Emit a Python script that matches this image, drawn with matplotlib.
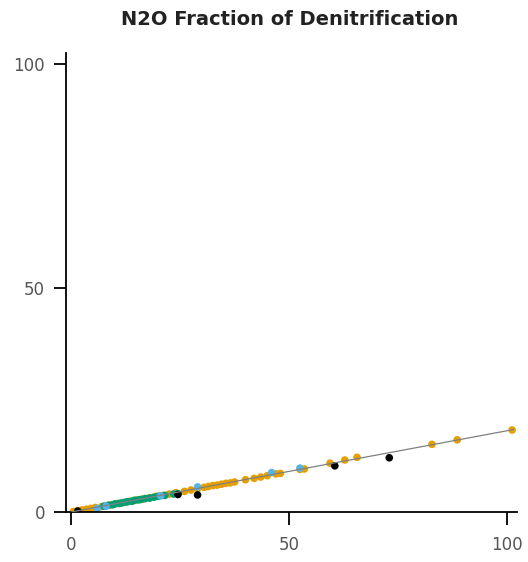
import numpy as np
import matplotlib.pyplot as plt

# ------------------------------------------------------------------
# Data
# ------------------------------------------------------------------
orange_x = [0.5, 1.5, 2.5, 3.5, 4.5, 5.5, 7, 9, 10.5, 12, 13.5, 15, 16.5, 18, 19.5,
            21, 22.5, 24, 26, 27.5, 29, 30.5, 31.5, 32.5, 33.5, 34.5, 35.5, 36.5,
            37.5, 40, 42, 43.5, 45, 47, 48, 52.5, 53.5, 59.4, 62.8, 65.6, 82.8,
            88.6, 101.2]
orange_y = [0.1, 0.3, 0.45, 0.6, 0.8, 1.0, 1.2, 1.6, 1.9, 2.1, 2.4, 2.7, 2.9, 3.2, 3.5,
            3.7, 4.0, 4.3, 4.6, 4.9, 5.2, 5.5, 5.7, 5.9, 6.0, 6.2, 6.4, 6.5,
            6.7, 7.2, 7.5, 7.8, 8.1, 8.5, 8.6, 9.5, 9.6, 10.9, 11.6, 12.2, 15.1,
            16.1, 18.3]

green_x = [7.5, 8.5, 9.5, 10, 11, 11.5, 12.5, 13, 14, 14.5, 15.5, 16, 17, 18, 19,
           20, 21.5, 23.5, 24.5]
green_y = [1.3, 1.5, 1.6, 1.8, 1.9, 2.0, 2.2, 2.3, 2.4, 2.6, 2.7, 2.8, 3.0, 3.1, 3.3,
           3.5, 3.7, 4.0, 4.1]

blue_x = [6, 8, 20.5, 29, 46, 52.5]
blue_y = [0.8, 1.3, 3.6, 5.6, 8.8, 9.8]

black_x = [1.5, 24.5, 29, 60.5, 73]
black_y = [0.2, 3.9, 3.8, 10.3, 12.1]

fit_x = [0, 101.5]
fit_y = [0, 18.4]

title = "N2O Fraction of Denitrification"
ticks = [0, 50, 100]

# ------------------------------------------------------------------
# Plot
# ------------------------------------------------------------------
fig = plt.figure(figsize=(5.28, 5.62), dpi=100)
ax = fig.add_axes([0.125, 0.089, 0.854, 0.817])

ax.scatter(orange_x, orange_y, s=30, color='#E69F00', edgecolors='none', zorder=2)
ax.scatter(green_x, green_y, s=30, color='#009E73', edgecolors='none', zorder=2)
ax.scatter(blue_x, blue_y, s=30, color='#56B4E9', edgecolors='none', zorder=2)
ax.scatter(black_x, black_y, s=30, color='black', edgecolors='none', zorder=2)
ax.plot(fit_x, fit_y, color='gray', linewidth=0.9, zorder=3)

ax.set_xlim(-1.2, 102.3)
ax.set_ylim(0, 102.5)
ax.set_xticks(ticks)
ax.set_yticks(ticks)
ax.tick_params(direction='out', length=9, width=1.3, labelsize=12,
               labelcolor='#555555')
ax.tick_params(axis='x', pad=8)
ax.tick_params(axis='y', pad=6)

for side in ['top', 'right']:
    ax.spines[side].set_visible(False)
for side in ['left', 'bottom']:
    ax.spines[side].set_linewidth(1.3)

fig.text(0.548, 0.966, title, ha='center', va='center',
         fontsize=14, fontweight='bold', color='#222222')

fig.savefig("out.png", dpi=100)
